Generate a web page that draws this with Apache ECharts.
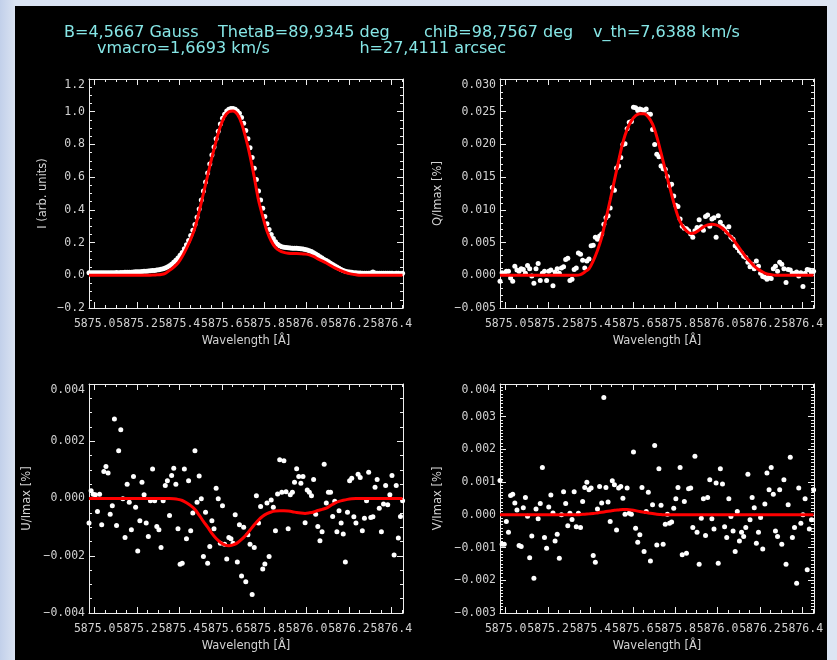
<!DOCTYPE html>
<html>
<head>
<meta charset="utf-8">
<script src="https://cdn.jsdelivr.net/npm/echarts@6/dist/echarts.min.js"></script>
<style>
    html, body {
        margin: 0;
        padding: 0;
        width: 837px;
        height: 660px;
        overflow: hidden;
        background: linear-gradient(to right, #c2d0ea 0px, #dae3f2 15px, #dde5f3 100%);
    }

    #plot {
        position: absolute;
        left: 15px;
        top: 6px;
        width: 812px;
        height: 654px;
        background: #000;
    }
</style>
</head>
<body>
<div id="plot"></div>
<script>
    // wavelength grid of the observed profile [A]
    var wavelengths = [
        5874.973, 5874.983, 5874.993, 5875.003, 5875.013, 5875.023, 5875.033, 5875.043, 5875.053, 5875.063,
        5875.073, 5875.083, 5875.093, 5875.103, 5875.113, 5875.123, 5875.133, 5875.143, 5875.153, 5875.163,
        5875.173, 5875.183, 5875.193, 5875.203, 5875.213, 5875.223, 5875.233, 5875.243, 5875.253, 5875.263,
        5875.273, 5875.283, 5875.293, 5875.303, 5875.313, 5875.323, 5875.333, 5875.343, 5875.353, 5875.363,
        5875.373, 5875.383, 5875.393, 5875.403, 5875.413, 5875.423, 5875.433, 5875.443, 5875.453, 5875.463,
        5875.473, 5875.483, 5875.493, 5875.503, 5875.513, 5875.523, 5875.533, 5875.543, 5875.553, 5875.563,
        5875.573, 5875.583, 5875.593, 5875.603, 5875.613, 5875.623, 5875.633, 5875.643, 5875.653, 5875.663,
        5875.673, 5875.683, 5875.693, 5875.703, 5875.713, 5875.723, 5875.733, 5875.743, 5875.753, 5875.763,
        5875.773, 5875.783, 5875.793, 5875.803, 5875.813, 5875.823, 5875.833, 5875.843, 5875.853, 5875.863,
        5875.873, 5875.883, 5875.893, 5875.903, 5875.913, 5875.923, 5875.933, 5875.943, 5875.953, 5875.963,
        5875.973, 5875.983, 5875.993, 5876.003, 5876.013, 5876.023, 5876.033, 5876.043, 5876.053, 5876.063,
        5876.073, 5876.083, 5876.093, 5876.103, 5876.113, 5876.123, 5876.133, 5876.143, 5876.153, 5876.163,
        5876.173, 5876.183, 5876.193, 5876.203, 5876.213, 5876.223, 5876.233, 5876.243, 5876.253, 5876.263,
        5876.273, 5876.283, 5876.293, 5876.303, 5876.313, 5876.323, 5876.333, 5876.343, 5876.353, 5876.363,
        5876.373, 5876.383, 5876.393, 5876.403, 5876.413, 5876.423, 5876.433, 5876.443, 5876.453
    ];

    // observed Stokes profiles (white dots)
    var obsI = [
        0.015, 0.016, 0.015, 0.016, 0.015, 0.016, 0.015, 0.015, 0.016, 0.015,
        0.015, 0.016, 0.016, 0.017, 0.016, 0.017, 0.017, 0.018, 0.018, 0.019,
        0.019, 0.02, 0.021, 0.022, 0.022, 0.023, 0.024, 0.025, 0.026, 0.027,
        0.029, 0.03, 0.032, 0.034, 0.037, 0.04, 0.045, 0.05, 0.058, 0.068,
        0.08, 0.092, 0.105, 0.122, 0.14, 0.162, 0.186, 0.213, 0.243, 0.275,
        0.31, 0.355, 0.405, 0.46, 0.515, 0.57, 0.625, 0.68, 0.735, 0.785,
        0.835, 0.88, 0.925, 0.96, 0.985, 1.005, 1.015, 1.02, 1.02, 1.015,
        1.005, 0.99, 0.965, 0.93, 0.885, 0.835, 0.78, 0.72, 0.655, 0.585,
        0.515, 0.46, 0.41, 0.36, 0.315, 0.28, 0.25, 0.225, 0.205, 0.19,
        0.18, 0.175, 0.172, 0.17, 0.168, 0.167, 0.166, 0.165, 0.165, 0.164,
        0.162, 0.16, 0.158, 0.155, 0.15, 0.145, 0.138, 0.13, 0.122, 0.114,
        0.105, 0.097, 0.09, 0.082, 0.074, 0.066, 0.058, 0.05, 0.043, 0.036,
        0.03, 0.025, 0.022, 0.02, 0.018, 0.016, 0.015, 0.014, 0.014, 0.013,
        0.013, 0.013, 0.012, 0.014, 0.02, 0.014, 0.012, 0.013, 0.012, 0.013,
        0.012, 0.012, 0.013, 0.012, 0.011, 0.012, 0.012, 0.011, 0.012
    ];
    var obsQ = [
        -0.0009, 0.0004, 0.0003, 0.0006, 0.0006, -0.0004, -0.0009, 0.0014, 0.0008, 0.0006,
        0.001, 0.0009, 0.0003, 0.0015, 0.001, -0.0001, -0.0012, 0.001, 0.0018, -0.0008,
        0.0003, 0.0006, -0.0008, 0.0006, 0.0008, -0.0016, 0.0005, 0.001, 0.0003, 0.0011,
        0.0013, 0.0024, 0.0026, -0.0008, -0.0006, 0.0009, 0.0011, 0.0034, 0.0032, 0.0023,
        0.0011, 0.0022, 0.0025, 0.0045, 0.0046, 0.0058, 0.0055, 0.006, 0.0063, 0.0078,
        0.0088, 0.0091, 0.0103, 0.0134, 0.013, 0.0164, 0.0167, 0.018, 0.02, 0.0201,
        0.0224, 0.0234, 0.0235, 0.0257, 0.0256, 0.0252, 0.0254, 0.0253, 0.0252, 0.0254,
        0.0246, 0.0246, 0.0223, 0.02, 0.0185, 0.0181, 0.0167, 0.0163, 0.0162, 0.0151,
        0.0137, 0.0139, 0.0121, 0.0107, 0.0105, 0.0086, 0.0075, 0.0072, 0.0071, 0.0068,
        0.0063, 0.0058, 0.0068, 0.0073, 0.0085, 0.0074, 0.0069, 0.009, 0.0092, 0.0075,
        0.0086, 0.0088, 0.0058, 0.0091, 0.0081, 0.0075, 0.0071, 0.0066, 0.0074, 0.0058,
        0.0055, 0.0045, 0.0042, 0.0037, 0.0034, 0.0029, 0.0027, 0.002, 0.0013, 0.0017,
        0.001, 0.0022, 0.0014, 0.0003, -0.0002, -0.0003, -0.0006, -0.0003, -0.0005, 0.001,
        0.0014, 0.0006, 0.002, 0.0017, 0.001, -0.0011, 0.0009, 0.0008, 0.0003, 0.0003,
        0.0005, -0.0001, 0.0004, -0.0017, 0.0003, 0.0009, 0.0008, 0.0004, 0.0006
    ];
    var obsU = [
        -0.00086, 0.00027, 0.00015, 0.00013, -0.00045, 0.00015, -0.00092, 0.00094, 0.00112, 0.00089,
        -0.00055, -0.00025, 0.00278, -0.00094, 0.00167, 0.0024, -0.00001, -0.00136, 0.0005, -0.00013,
        -0.00109, 0.00077, -0.00031, -0.00183, -0.00078, 0.00057, 0.00013, -0.00086, -0.00133, -0.00008,
        0.00103, -0.00008, -0.00098, -0.00109, -0.00171, -0.00008, 0.00045, 0.00062, -0.00059, 0.0008,
        0.00106, 0.0005, -0.00106, -0.0023, -0.00226, 0.00103, -0.00141, 0.00062, -0.00113, -0.00051,
        0.00167, -0.00013, 0.00079, -0.00001, -0.00203, -0.00048, -0.00226, -0.00168, -0.00078, -0.00106,
        0.00036, -0.00001, -0.00156, -0.00025, -0.0016, -0.00211, -0.00136, -0.00141, -0.00156, -0.00057,
        -0.00222, -0.00092, -0.00271, -0.001, -0.00291, -0.00127, -0.0016, -0.00335, -0.00171, 0.0001,
        -0.00086, -0.00028, -0.00246, -0.00229, -0.00016, -0.00203, -0.00005, -0.00031, -0.00113, 0.00016,
        0.00135, 0.00022, 0.00132, 0.00024, -0.00106, 0.00013, 0.00022, 0.00057, 0.00104, 0.00077,
        0.00053, 0.00077, -0.00085, 0.0003, 0.00022, 0.0001, 0.00066, -0.00055, -0.00098, -0.00148,
        -0.00116, 0.0012, -0.00016, 0.00022, 0.00022, -0.00063, -0.0001, -0.00116, -0.00043, -0.00086,
        -0.00124, -0.00222, -0.00048, 0.00062, 0.00071, -0.00064, -0.00086, 0.00085, 0.00073, -0.00113,
        -0.00069, -0.00008, 0.00092, -0.00066, -0.00064, 0.00039, 0.00066, -0.00034, -0.00116, -0.00019,
        0.00045, -0.00022, 0.00013, 0.0008, -0.00197, 0.00045, -0.00138, -0.00063, -0.00008
    ];
    var obsV = [
        0.00105, -0.0009, -0.0009, -0.0002, -0.00053, 0.00059, 0.00063, 0.00036, 0.00015, -0.00094,
        -0.00097, 0.00022, 0.00053, -0.00004, -0.00131, -0.00065, -0.00194, 0.00018, -0.00012, 0.00035,
        0.00145, -0.00069, -0.00102, 0.00024, 0.00061, 0.00006, -0.0008, -0.00059, -0.00133, 0,
        0.00071, 0.00035, -0.00033, 0.00005, -0.00014, 0.00071, -0.00036, 0.00005, -0.00039, 0.00041,
        0.00084, 0.001, 0.00077, 0.00082, -0.00124, -0.00145, 0.00018, 0.00087, 0.00036, 0.00359,
        0.00084, 0.00039, -0.0002, 0.00104, 0.00092, -0.00046, 0.00082, 0.00087, 0.00051, 0.00002,
        0.00082, 0.00005, 0.00002, 0.00192, -0.00041, -0.00084, -0.00061, 0.00084, -0.00112, 0.0001,
        0.00069, -0.00141, 0.00031, 0.00212, -0.00092, 0.00141, 0.00029, -0.0009, -0.00029, 0.00002,
        -0.00026, -0.00022, 0.0002, 0.00049, 0.00084, 0.00145, -0.00122, 0.00041, -0.00117, 0.0008,
        0.00082, -0.00039, 0.00179, -0.00053, -0.00151, -0.0001, 0.00049, -0.00063, 0.00053, 0.00107,
        -0.00012, -0.00043, 0.00097, -0.00148, 0.00141, 0.00094, -0.00036, -0.00069, 0.00049, -0.00005,
        -0.00049, -0.00112, 0.0001, -0.0008, -0.00053, -0.00066, -0.00039, 0.00124, -0.00015, 0.00053,
        0.00022, -0.00087, -0.00053, -0.00008, -0.00104, 0.00033, 0.00128, 0.00077, 0.00145, 0.00063,
        -0.00049, -0.00066, 0.00077, -0.0009, 0.00107, -0.00151, 0.00031, 0.00176, -0.00069, -0.00039,
        -0.00209, 0.00082, -0.00026, 0, 0.00049, -0.00168, -0.00043, -0.00015, 0.00077
    ];

    // inverted fit (red line), sampled on every second wavelength
    var fitI = [
        0, 0, 0, 0, 0, 0, 0, 0, 0, 0, 0, 0, 0, 0, 0,
        0.001, 0.003, 0.005, 0.012, 0.03, 0.05, 0.075, 0.115, 0.165, 0.22,
        0.29, 0.39, 0.5, 0.61, 0.72, 0.82, 0.91, 0.97, 1.0, 1.005,
        0.985, 0.93, 0.84, 0.73, 0.6, 0.46, 0.36, 0.27, 0.21, 0.17,
        0.15, 0.14, 0.135, 0.133, 0.133, 0.132, 0.13, 0.125, 0.115, 0.1,
        0.088, 0.075, 0.06, 0.045, 0.033, 0.022, 0.013, 0.007, 0.003,
        0, 0, 0, 0, 0, 0, 0, 0, 0, 0, 0
    ];
    var fitQ = [
        0, 0, 0, 0, 0, 0, 0, 0, 0, 0, 0, 0, 0, 0, 0, 0, 0, 0, 0,
        0.0001, 0.0005, 0.001, 0.0022, 0.0038, 0.0058, 0.0086, 0.0115, 0.0145, 0.0175,
        0.0203, 0.0223, 0.0236, 0.0244, 0.0247, 0.0247, 0.0242, 0.0231, 0.0212, 0.0187,
        0.0161, 0.0136, 0.0111, 0.009, 0.0076, 0.0068, 0.0064, 0.0065, 0.0069, 0.0074,
        0.0077, 0.0078, 0.0077, 0.0074, 0.0069, 0.0062, 0.0055, 0.0046, 0.0037, 0.0028,
        0.0021, 0.0014, 0.0009, 0.0005, 0.0002, 0.0001,
        0, 0, 0, 0, 0, 0, 0, 0, 0, 0
    ];
    var fitU = [
        0, 0, 0, 0, 0, 0, 0, 0, 0, 0, 0, 0, 0, 0, 0, 0, 0, 0, 0, 0,
        -0.00001, -0.00003, -0.00007, -0.00015, -0.00025, -0.00038, -0.00058, -0.0008, -0.001, -0.00122,
        -0.0014, -0.00153, -0.00162, -0.00165, -0.00162, -0.00155, -0.00143, -0.00128, -0.0011, -0.00092,
        -0.00075, -0.00062, -0.00053, -0.00047, -0.00044, -0.00043, -0.00043, -0.00044, -0.00046, -0.00049,
        -0.00051, -0.00052, -0.0005, -0.00047, -0.00042, -0.00038, -0.00034, -0.00025, -0.00016, -0.0001,
        -0.00006, -0.00003, -0.00001,
        0, 0, 0, 0, 0, 0, 0, 0, 0, 0, 0, 0
    ];
    var fitV = [
        0, 0, 0, 0, 0, 0, 0, 0, 0, 0, 0, 0, 0, 0, 0, 0, 0, 0, 0,
        0.00001, 0.00002, 0.00003, 0.00004, 0.00006, 0.00008, 0.0001, 0.00012, 0.00014, 0.00015,
        0.00016, 0.00016, 0.00015, 0.00013, 0.0001, 0.00008, 0.00006, 0.00004, 0.00002, 0.00001,
        0, 0, 0, 0, 0, 0, 0, 0, 0, 0, 0, 0, 0, 0, 0, 0, 0, 0,
        0, 0, 0, 0, 0, 0, 0, 0, 0, 0, 0, 0, 0, 0, 0, 0, 0, 0
    ];
    var fitWavelengths = wavelengths.filter(function (w, i) { return i % 2 === 0; });

    // wavelength tick marks
    var xMajorTicks = [5875.0, 5875.2, 5875.4, 5875.6, 5875.8, 5876.0, 5876.2, 5876.4];
    var xMinorTicks = [5875.05, 5875.1, 5875.15, 5875.25, 5875.3, 5875.35, 5875.45, 5875.5, 5875.55,
        5875.65, 5875.7, 5875.75, 5875.85, 5875.9, 5875.95, 5876.05, 5876.1, 5876.15,
        5876.25, 5876.3, 5876.35, 5876.45];

    var titleLines = [
        ['B=4,5667 Gauss', 'ThetaB=89,9345 deg', 'chiB=98,7567 deg', 'v_th=7,6388 km/s'],
        ['vmacro=1,6693 km/s', 'h=27,4111 arcsec']
    ];
    var yNames = ['I (arb. units)', 'Q/Imax [%]', 'U/Imax [%]', 'V/Imax [%]'];

    var WL_MIN = 5874.973, WL_MAX = 5876.455;
    var LINE_COL = '#eeeeee', TEXT_COL = '#d2d2d2';

    var panels = [
        {box: [74, 73, 314, 229], obs: obsI, fit: fitI, min: -0.2, max: 1.2, step: 0.2, sub: 4, dec: 1, gap: 40},
        {box: [485, 73, 314, 229], obs: obsQ, fit: fitQ, min: -0.005, max: 0.03, step: 0.005, sub: 5, dec: 3, gap: 56},
        {box: [74, 378, 314, 229], obs: obsU, fit: fitU, min: -0.004, max: 0.004, step: 0.002, sub: 4, dec: 3, gap: 56},
        {box: [485, 378, 314, 229], obs: obsV, fit: fitV, min: -0.003, max: 0.004, step: 0.001, sub: 10, dec: 3, gap: 56}
    ];

    function yFormatter(dec) {
        return function (v) {
            if (Math.abs(v) < 1e-12) v = 0;
            return (v < 0 ? '\u2212' : '') + Math.abs(v).toFixed(dec);
        };
    }

    var labelStyle = {color: TEXT_COL, fontFamily: 'DejaVu Sans Mono', fontSize: 11.5};
    var nameStyle = {color: TEXT_COL, fontFamily: 'DejaVu Sans', fontSize: 11.5};

    var grids = [], xAxes = [], yAxes = [], series = [];

    panels.forEach(function (p, g) {
        grids.push({left: p.box[0], top: p.box[1], width: p.box[2], height: p.box[3]});

        // x: bottom major, bottom minor, top major, top minor
        ['bottom', 'top'].forEach(function (pos) {
            var isBottom = pos === 'bottom';
            xAxes.push({
                gridIndex: g, type: 'value', position: pos, min: WL_MIN, max: WL_MAX,
                name: isBottom ? 'Wavelength [\u00c5]' : '',
                nameLocation: 'middle', nameGap: 27, nameTextStyle: nameStyle,
                axisLine: {show: true, onZero: false, lineStyle: {color: LINE_COL, width: 1}},
                axisTick: {show: true, inside: true, length: 6, customValues: xMajorTicks,
                    lineStyle: {color: LINE_COL}},
                axisLabel: isBottom ? Object.assign({
                    show: true, margin: 10, customValues: xMajorTicks,
                    formatter: function (v) { return v.toFixed(1); }
                }, labelStyle) : {show: false},
                splitLine: {show: false}
            });
            xAxes.push({
                gridIndex: g, type: 'value', position: pos, min: WL_MIN, max: WL_MAX,
                axisLine: {show: false, onZero: false},
                axisTick: {show: true, inside: true, length: 3, customValues: xMinorTicks,
                    lineStyle: {color: LINE_COL}},
                axisLabel: {show: false},
                splitLine: {show: false}
            });
        });

        // y: left with labels, right mirrored ticks only
        ['left', 'right'].forEach(function (pos) {
            var isLeft = pos === 'left';
            yAxes.push({
                gridIndex: g, type: 'value', position: pos,
                min: p.min, max: p.max, interval: p.step,
                name: isLeft ? yNames[g] : '',
                nameLocation: 'middle', nameGap: p.gap, nameTextStyle: nameStyle,
                axisLine: {show: true, onZero: false, lineStyle: {color: LINE_COL, width: 1}},
                axisTick: {show: true, inside: true, length: 6, lineStyle: {color: LINE_COL}},
                minorTick: {show: true, splitNumber: p.sub, length: 3, lineStyle: {color: LINE_COL}},
                axisLabel: isLeft ? Object.assign({
                    show: true, margin: 4, formatter: yFormatter(p.dec),
                    verticalAlignMaxLabel: 'top'
                }, labelStyle) : {show: false},
                splitLine: {show: false}
            });
        });

        series.push({
            type: 'scatter', xAxisIndex: g * 4, yAxisIndex: g * 2,
            data: wavelengths.map(function (w, i) { return [w, p.obs[i]]; }),
            symbolSize: 5, itemStyle: {color: '#ffffff', opacity: 1}, z: 2
        });
        series.push({
            type: 'line', xAxisIndex: g * 4, yAxisIndex: g * 2,
            data: fitWavelengths.map(function (w, j) { return [w, p.fit[j]]; }),
            showSymbol: false, smooth: 0.3,
            lineStyle: {color: '#ff0000', width: 3}, z: 3
        });
    });

    // header text, two rows, cyan like the IDL window
    var titleX = [[49, 203, 409, 578], [82, 491]];
    var titleY = [26.5, 43];
    var graphics = [];
    titleLines.forEach(function (row, r) {
        row.forEach(function (txt, k) {
            var alignRight = (r === 1 && k === 1);
            graphics.push({
                type: 'text', x: titleX[r][k], y: titleY[r],
                style: {
                    text: txt, fill: '#86e6e6', font: '16px "DejaVu Sans"',
                    align: alignRight ? 'right' : 'left', verticalAlign: 'middle'
                }
            });
        });
    });

    var myChart = echarts.init(document.getElementById('plot'));
    myChart.setOption({
        backgroundColor: '#000',
        animation: false,
        grid: grids,
        xAxis: xAxes,
        yAxis: yAxes,
        series: series,
        graphic: graphics
    });
</script>
</body>
</html>
